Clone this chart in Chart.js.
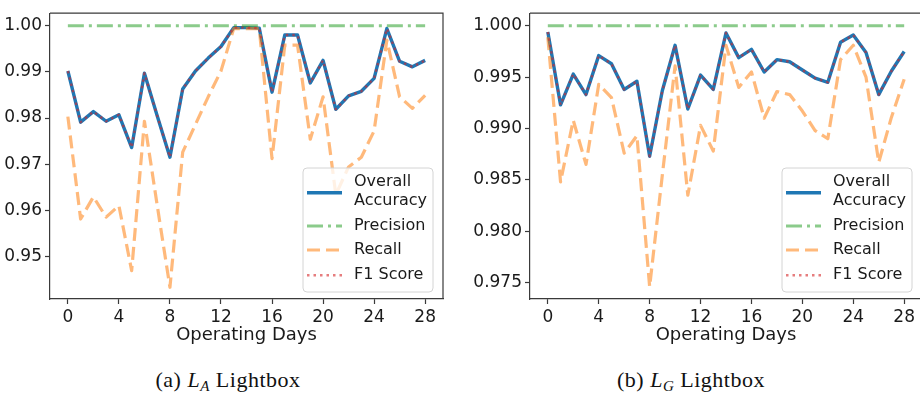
<!DOCTYPE html>
<html><head><meta charset="utf-8">
<script src="https://cdn.jsdelivr.net/npm/chart.js@4.4.1/dist/chart.umd.min.js"></script>
<style>
html,body{margin:0;padding:0;background:#fff;width:920px;height:396px;overflow:hidden;position:relative}
#wa{position:absolute;left:0;top:0;width:460px;height:350px}
#wb{position:absolute;left:460px;top:0;width:470px;height:350px}
.cap{position:absolute;top:367px;font-family:"Liberation Serif","DejaVu Serif",serif;font-size:22px;letter-spacing:0.5px;color:#111;white-space:nowrap;transform:translateX(-50%)}
.cap sub{font-size:15px;vertical-align:-4px;line-height:0}
</style></head><body>
<div id="wa"><canvas id="ca"></canvas></div>
<div id="wb"><canvas id="cb"></canvas></div>
<div class="cap" style="left:228px">(a) <i>L<sub>A</sub></i> Lightbox</div>
<div class="cap" style="left:691px">(b) <i>L<sub>G</sub></i> Lightbox</div>
<script>
const days = [0,1,2,3,4,5,6,7,8,9,10,11,12,13,14,15,16,17,18,19,20,21,22,23,24,25,26,27,28];
const dayTicks = [0,4,8,12,16,20,24,28];
const dayTickLabels = ['0','4','8','12','16','20','24','28'];
const seriesNames = ['Overall Accuracy','Precision','Recall','F1 Score'];

// (a) L_A Lightbox
const accA = [0.9902,0.9791,0.9814,0.9793,0.9807,0.9736,0.9897,0.9805,0.9715,0.9863,0.9902,0.9930,0.9955,0.9996,0.9996,0.9995,0.9856,0.9980,0.9980,0.9876,0.9925,0.9819,0.9848,0.9858,0.9886,0.9994,0.9923,0.9911,0.9925];
const precA = [1,1,1,1,1,1,1,1,1,1,1,1,1,1,1,1,1,1,1,1,1,1,1,1,1,1,1,1,1];
const recA = [0.9803,0.9581,0.9629,0.9585,0.9610,0.9469,0.9793,0.9611,0.9433,0.9726,0.9786,0.9846,0.9902,0.9994,0.9994,0.9994,0.9712,0.9958,0.9958,0.9754,0.9846,0.9634,0.9694,0.9715,0.9772,0.9969,0.9846,0.9821,0.9849];
const f1A = [0.9902,0.9791,0.9814,0.9793,0.9807,0.9736,0.9897,0.9805,0.9715,0.9863,0.9902,0.9930,0.9955,0.9996,0.9996,0.9995,0.9856,0.9980,0.9980,0.9876,0.9925,0.9819,0.9848,0.9858,0.9886,0.9994,0.9923,0.9911,0.9925];
const yTicksA = [0.95,0.96,0.97,0.98,0.99,1.00];
const yTickLabelsA = ['0.95','0.96','0.97','0.98','0.99','1.00'];

// (b) L_G Lightbox
const accB = [0.9994,0.9923,0.9953,0.9933,0.9971,0.9963,0.9938,0.9946,0.9873,0.9937,0.9981,0.9919,0.9952,0.9938,0.9993,0.9969,0.9977,0.9955,0.9967,0.9965,0.9957,0.9949,0.9945,0.9984,0.9991,0.9974,0.9933,0.9956,0.9975];
const precB = [1,1,1,1,1,1,1,1,1,1,1,1,1,1,1,1,1,1,1,1,1,1,1,1,1,1,1,1,1];
const recB = [0.9989,0.9848,0.9908,0.9865,0.9943,0.9930,0.9876,0.9893,0.9746,0.9855,0.9961,0.9835,0.9903,0.9878,0.9981,0.9940,0.9955,0.9910,0.9936,0.9933,0.9917,0.9898,0.9890,0.9967,0.9981,0.9950,0.9867,0.9911,0.9948];
const f1B = [0.9994,0.9923,0.9953,0.9933,0.9971,0.9963,0.9938,0.9946,0.9873,0.9937,0.9981,0.9919,0.9952,0.9938,0.9993,0.9969,0.9977,0.9955,0.9967,0.9965,0.9957,0.9949,0.9945,0.9984,0.9991,0.9974,0.9933,0.9956,0.9975];
const yTicksB = [0.975,0.980,0.985,0.990,0.995,1.000];
const yTickLabelsB = ['0.975','0.980','0.985','0.990','0.995','1.000'];

const styles = [
  {borderColor:'#1f77b4', borderWidth:3.4, borderDash:[], order:3},
  {borderColor:'rgba(44,160,44,0.55)', borderWidth:3, borderDash:[16,5,3,5], order:2},
  {borderColor:'rgba(255,127,14,0.55)', borderWidth:3.2, borderDash:[13,6], order:1},
  {borderColor:'rgba(214,39,40,0.6)', borderWidth:2.4, borderDash:[2.5,4], order:0}
];
const AX = '#3a3a3a', TXT = '#1a1a1a';

const framePlugin = {
  id:'frame',
  afterDatasetsDraw(chart){
    const a = chart.chartArea, ctx = chart.ctx;
    ctx.save(); ctx.strokeStyle = AX; ctx.lineWidth = 1.2; ctx.setLineDash([]);
    ctx.beginPath(); ctx.moveTo(a.left, a.top); ctx.lineTo(a.right, a.top); ctx.lineTo(a.right, a.bottom); ctx.stroke();
    ctx.restore();
  }
};
const legendPlugin = {
  id:'mlegend',
  afterDraw(chart){
    const a = chart.chartArea, ctx = chart.ctx, ds = chart.data.datasets;
    const bw = 130, bh = 124, bx = a.right - 10 - bw, by = a.bottom - 7 - bh;
    ctx.save();
    ctx.beginPath(); ctx.roundRect(bx, by, bw, bh, 4);
    ctx.fillStyle = 'rgba(255,255,255,0.8)'; ctx.fill();
    ctx.strokeStyle = '#d4d4d4'; ctx.lineWidth = 1; ctx.stroke();
    const rows = [
      {i:0, hy:24.7, t:[['Overall',13.7],['Accuracy',32.7]]},
      {i:1, hy:58, t:[['Precision',58]]},
      {i:2, hy:82, t:[['Recall',82]]},
      {i:3, hy:107.3, t:[['F1 Score',107.3]]}
    ];
    rows.forEach(r => {
      const d = ds[r.i];
      ctx.beginPath(); ctx.setLineDash(d.borderDash || []);
      ctx.strokeStyle = d.borderColor; ctx.lineWidth = d.borderWidth;
      ctx.moveTo(bx + 4, by + r.hy); ctx.lineTo(bx + 39, by + r.hy); ctx.stroke();
      ctx.setLineDash([]);
      ctx.fillStyle = TXT; ctx.font = '16px "DejaVu Sans"'; ctx.textBaseline = 'middle'; ctx.textAlign = 'left';
      r.t.forEach(([s, y]) => ctx.fillText(s, bx + 51, by + y));
    });
    ctx.restore();
  }
};

function makeChart(id, series, yTicks, yLabels, ymin, ymax, yWidth, padRight){
  const datasets = series.map((vals, k) => Object.assign({
    label: seriesNames[k],
    data: days.map((d, j) => ({x:d, y:vals[j]})),
    pointRadius:0, tension:0, fill:false, borderCapStyle:'butt', borderJoinStyle:'round'
  }, styles[k]));
  return new Chart(document.getElementById(id), {
    type:'line',
    data:{datasets},
    plugins:[framePlugin, legendPlugin],
    options:{
      responsive:true, maintainAspectRatio:false, animation:false, devicePixelRatio:1,
      layout:{padding:{top:4, right:padRight, left:0, bottom:0}},
      plugins:{legend:{display:false}, tooltip:{enabled:false}},
      scales:{
        x:{type:'linear', min:-1.4, max:29.4,
          afterBuildTicks(s){ s.ticks = dayTicks.map(v => ({value:v})); },
          afterFit(s){ s.height = 51; },
          ticks:{padding:3, color:TXT, font:{family:'DejaVu Sans', size:17}, maxRotation:0,
            callback:(v, i) => dayTickLabels[i]},
          grid:{drawOnChartArea:false, drawTicks:true, tickLength:5, tickWidth:1.2, tickColor:AX},
          border:{display:true, color:AX, width:1.2},
          title:{display:true, text:'Operating Days', color:TXT, font:{family:'DejaVu Sans', size:18}, padding:{top:0, bottom:4}}
        },
        y:{type:'linear', min:ymin, max:ymax,
          afterBuildTicks(s){ s.ticks = yTicks.map(v => ({value:v})); },
          afterFit(s){ s.width = yWidth; },
          ticks:{padding:3, color:TXT, font:{family:'DejaVu Sans', size:17},
            callback:(v, i) => yLabels[i]},
          grid:{drawOnChartArea:false, drawTicks:true, tickLength:5, tickWidth:1.2, tickColor:AX},
          border:{display:true, color:AX, width:1.2}
        }
      }
    }
  });
}

makeChart('ca', [accA, precA, recA, f1A], yTicksA, yTickLabelsA, 0.94076, 1.00273, 50, 17);
makeChart('cb', [accB, precB, recB, f1B], yTicksB, yTickLabelsB, 0.973396, 1.001226, 70, 8);
</script>
</body></html>
